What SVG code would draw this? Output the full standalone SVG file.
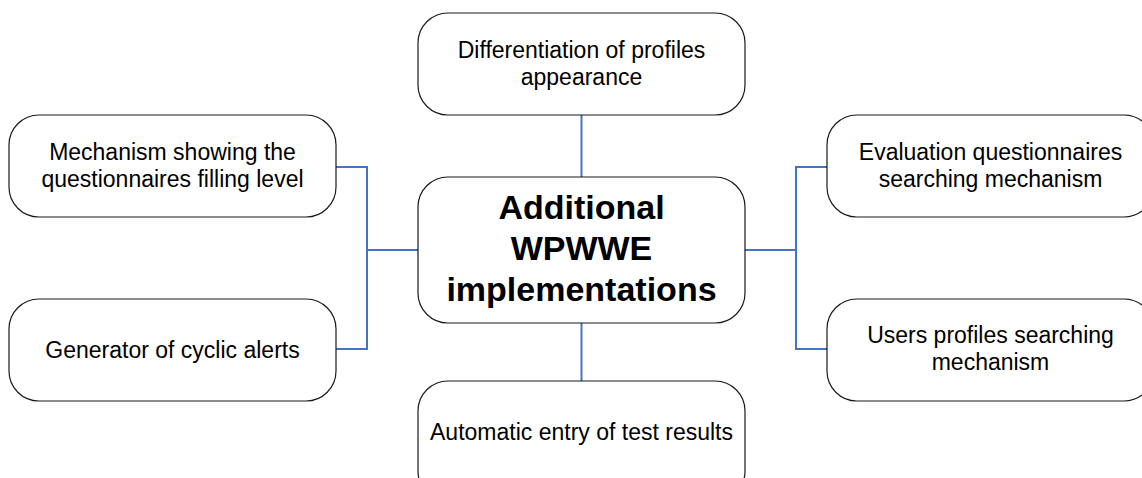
<svg xmlns="http://www.w3.org/2000/svg" width="1142" height="478" viewBox="0 0 1142 478">
<style>
.box{fill:#fff;stroke:#1a1a1a;stroke-width:1.2}
.t{font-family:"Liberation Sans",Arial,sans-serif;font-size:23px;fill:#000;text-anchor:middle}
.c{font-family:"Liberation Sans",Arial,sans-serif;font-size:34px;font-weight:bold;fill:#000;text-anchor:middle}
.con{fill:none;stroke:#4472C4;stroke-width:2}
</style>
<rect width="1142" height="478" fill="#fff"/>
<g id="connectors">
<line class="con" x1="581.5" y1="115" x2="581.5" y2="177"/>
<line class="con" x1="581.5" y1="323" x2="581.5" y2="381"/>
<polyline class="con" points="336,167 367,167 367,349 336,349"/>
<line class="con" x1="367" y1="250" x2="418" y2="250"/>
<polyline class="con" points="827,167 796,167 796,349 827,349"/>
<line class="con" x1="745" y1="250" x2="796" y2="250"/>
</g>
<g id="top">
<rect class="box" x="418" y="13" width="327" height="102" rx="30"/>
<text class="t" x="581.5" y="58">Differentiation of profiles</text>
<text class="t" x="581.5" y="85">appearance</text>
</g>
<g id="center">
<rect class="box" x="418" y="177" width="327" height="146" rx="30"/>
<text class="c" x="581.5" y="219">Additional</text>
<text class="c" x="581.5" y="260">WPWWE</text>
<text class="c" x="581.5" y="301">implementations</text>
</g>
<g id="left-top">
<rect class="box" x="9" y="115" width="327" height="102" rx="30"/>
<text class="t" x="172.5" y="160">Mechanism showing the</text>
<text class="t" x="172.5" y="187">questionnaires filling level</text>
</g>
<g id="left-bottom">
<rect class="box" x="9" y="299" width="327" height="102" rx="30"/>
<text class="t" x="172.5" y="358">Generator of cyclic alerts</text>
</g>
<g id="right-top">
<rect class="box" x="827" y="115" width="327" height="102" rx="30"/>
<text class="t" x="990.5" y="160">Evaluation questionnaires</text>
<text class="t" x="990.5" y="187">searching mechanism</text>
</g>
<g id="right-bottom">
<rect class="box" x="827" y="299" width="327" height="102" rx="30"/>
<text class="t" x="990.5" y="343">Users profiles searching</text>
<text class="t" x="990.5" y="370">mechanism</text>
</g>
<g id="bottom">
<rect class="box" x="418" y="381" width="327" height="120" rx="30"/>
<text class="t" x="581.5" y="440">Automatic entry of test results</text>
</g>
</svg>
